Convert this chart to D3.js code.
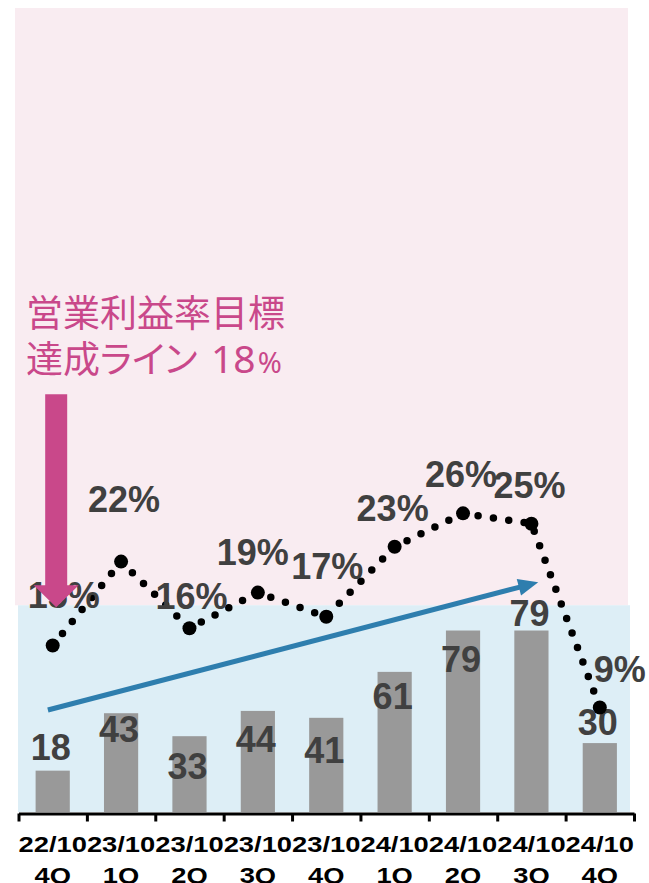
<!DOCTYPE html>
<html>
<head>
<meta charset="utf-8">
<script src="https://cdn.jsdelivr.net/npm/d3@7"></script>
<style>
  body { margin: 0; background: #fff; }
  svg { display: block; }
</style>
</head>
<body>
<div id="chart"></div>
<script>
// Data
const periods  = ["22/10", "23/10", "23/10", "23/10", "23/10", "24/10", "24/10", "24/10", "24/10"];
const quarters = ["4Q", "1Q", "2Q", "3Q", "4Q", "1Q", "2Q", "3Q", "4Q"];
const barValues = [18, 43, 33, 44, 41, 61, 79, 79, 30];
const pctValues = [14.5, 21.8, 16.0, 19.1, 17.0, 23.1, 26.0, 25.1, 9.1];
const pctTarget = 18;
const barMax = 350;
const pctMax = 70;
const noteLines = ["営業利益率目標", "達成ライン"];

// label nudges (px), label centre relative to bar top / dot
const barLabelDy = [-23, 16, 30, 28, 33, 25, 29, -17, -21];
const pctLabelDx = [11, 3, 2, -5, 1, -2, -2, -2, 20];
const pctLabelDy = [-50, -62, -32, -40, -50, -38, -39, -38, -38];

const W = 649, H = 883;
const plotLeft = 18.5, plotRight = 634, plotTop = 8, plotBase = 812;

const svg = d3.select("#chart").append("svg")
    .attr("width", W)
    .attr("height", H);

// Scales
const x = d3.scaleBand()
    .domain(d3.range(periods.length))
    .range([plotLeft, plotRight])
    .paddingInner(0.5)
    .paddingOuter(0.25);
const xEdge = d3.scaleLinear()
    .domain([0, periods.length])
    .range([plotLeft, plotRight]);
const xIdx = d3.scaleLinear()
    .domain([0, 1])
    .range([x(0) + x.bandwidth() / 2, x(1) + x.bandwidth() / 2]);
const yBar = d3.scaleLinear().domain([0, barMax]).range([plotBase, plotTop]);
const yPct = d3.scaleLinear().domain([0, pctMax]).range([plotBase, plotTop]);

// Background zones (above / below target)
svg.append("rect")
    .attr("x", 15).attr("y", yPct(pctMax))
    .attr("width", 613).attr("height", yPct(pctTarget) - yPct(pctMax))
    .attr("fill", "#f9ecf1");
svg.append("rect")
    .attr("x", 18).attr("y", yPct(pctTarget))
    .attr("width", 612).attr("height", yPct(0) - yPct(pctTarget))
    .attr("fill", "#ddeef6");

// Bars
svg.selectAll(".bar")
    .data(barValues)
    .join("rect")
    .attr("class", "bar")
    .attr("x", (d, i) => x(i))
    .attr("y", d => yBar(d))
    .attr("width", x.bandwidth())
    .attr("height", d => yBar(0) - yBar(d))
    .attr("fill", "#999999");

// Bar labels
svg.selectAll(".barLabel")
    .data(barValues)
    .join("text")
    .attr("class", "barLabel")
    .attr("x", (d, i) => x(i) + x.bandwidth() / 2 - 2)
    .attr("y", (d, i) => yBar(d) + barLabelDy[i])
    .attr("dy", "0.35em")
    .attr("text-anchor", "middle")
    .attr("font-family", "Liberation Sans, Arial, sans-serif")
    .attr("font-weight", "bold")
    .attr("font-size", "36px")
    .attr("fill", "#404040")
    .text(d => d);

// Blue trend arrow
const arrowFrom = [-0.07, 44.4];
const arrowTo = [7.1, 100];
const ax1 = xIdx(arrowFrom[0]), ay1 = yBar(arrowFrom[1]);
const ax2 = xIdx(arrowTo[0]), ay2 = yBar(arrowTo[1]);
const ang = Math.atan2(ay2 - ay1, ax2 - ax1);
const headLen = 20, headHalf = 8.5;
const bx = ax2 - headLen * Math.cos(ang), by = ay2 - headLen * Math.sin(ang);
svg.append("line")
    .attr("x1", ax1).attr("y1", ay1)
    .attr("x2", bx + 2 * Math.cos(ang)).attr("y2", by + 2 * Math.sin(ang))
    .attr("stroke", "#2e7eae")
    .attr("stroke-width", 5);
svg.append("path")
    .attr("d", d3.line()([
        [ax2, ay2],
        [bx - headHalf * Math.sin(ang), by + headHalf * Math.cos(ang)],
        [bx + headHalf * Math.sin(ang), by - headHalf * Math.cos(ang)]
    ]) + "Z")
    .attr("fill", "#2e7eae");

// Dotted ratio line
const pts = pctValues.map((d, i) => [x(i) + x.bandwidth() / 2, yPct(d)]);
svg.append("path")
    .attr("d", d3.line()(pts))
    .attr("fill", "none")
    .attr("stroke", "#000")
    .attr("stroke-width", 7.5)
    .attr("stroke-linecap", "round")
    .attr("stroke-dasharray", "0 15.5");

svg.selectAll(".dot")
    .data(pts)
    .join("circle")
    .attr("class", "dot")
    .attr("cx", d => d[0])
    .attr("cy", d => d[1])
    .attr("r", 7)
    .attr("fill", "#000");

// Percentage labels
svg.selectAll(".pctLabel")
    .data(pctValues)
    .join("text")
    .attr("class", "pctLabel")
    .attr("x", (d, i) => x(i) + x.bandwidth() / 2 + pctLabelDx[i])
    .attr("y", (d, i) => yPct(d) + pctLabelDy[i])
    .attr("dy", "0.35em")
    .attr("text-anchor", "middle")
    .attr("font-family", "Liberation Sans, Arial, sans-serif")
    .attr("font-weight", "bold")
    .attr("font-size", "36px")
    .attr("fill", "#404040")
    .text(d => Math.round(d) + "%");

// Target note + pink arrow
const pink = "#c9488a";
const tipX = x(0) + x.bandwidth() / 2 + 3.5;
const tipY = yPct(pctTarget) + 2;
svg.append("path")
    .attr("d", d3.line()([
        [tipX - 11, tipY - 213],
        [tipX + 11, tipY - 213],
        [tipX + 11, tipY - 22],
        [tipX + 22.5, tipY - 22],
        [tipX, tipY],
        [tipX - 22.5, tipY - 22],
        [tipX - 11, tipY - 22]
    ]) + "Z")
    .attr("fill", pink);

const note = svg.append("g")
    .attr("font-family", "Noto Sans CJK JP, Noto Sans, sans-serif")
    .attr("fill", pink);
note.append("text")
    .attr("x", 26).attr("y", 327)
    .attr("font-size", "37px")
    .text(noteLines[0]);
const l2 = note.append("text")
    .attr("x", 26).attr("y", 373)
    .attr("font-size", "37px")
    .style("font-feature-settings", "'palt'");
l2.append("tspan").text(noteLines[1]);
l2.append("tspan").attr("x", 211).attr("font-family", "Noto Sans, sans-serif")
    .attr("font-size", "39px")
    .text(pctTarget);
l2.append("tspan").attr("dx", 2).attr("font-size", "29px").attr("font-family", "Noto Sans, sans-serif")
    .text("%");

// X axis
const axis = svg.append("g")
    .attr("transform", `translate(0,${plotBase + 1.5})`)
    .call(d3.axisBottom(xEdge)
        .tickValues(d3.range(periods.length + 1))
        .tickSize(8)
        .tickSizeOuter(0)
        .tickFormat(""));
axis.select(".domain").attr("stroke", "#000").attr("stroke-width", 3);
axis.selectAll(".tick line").attr("stroke", "#000").attr("stroke-width", 3);

const xl = svg.selectAll(".xLabel")
    .data(periods)
    .join("g")
    .attr("class", "xLabel")
    .attr("font-family", "Liberation Sans, Arial, sans-serif")
    .attr("font-weight", "bold")
    .attr("font-size", "22px")
    .attr("fill", "#000")
    .attr("text-anchor", "middle");
const t1 = xl.append("text").attr("y", 852).text(d => d);
xl.append("text").attr("y", 883).text((d, i) => quarters[i]);
// stretch labels so they fill the band like the original
xl.each(function (d, i) {
    const w = d3.select(this).select("text").node().getComputedTextLength();
    const s = x.step() / w;
    d3.select(this).attr("transform", `translate(${x(i) + x.bandwidth() / 2},0) scale(${s},1)`);
});
</script>
</body>
</html>
